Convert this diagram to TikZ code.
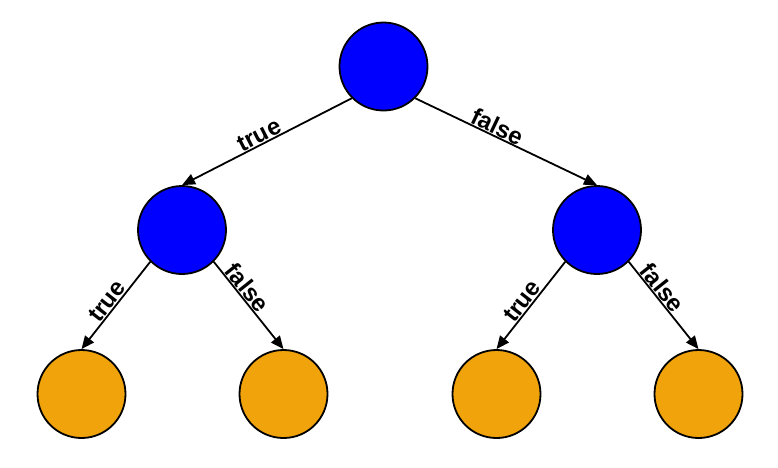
\documentclass[tikz,border=0pt]{standalone}
\usepackage{fontspec}
\setmainfont{Liberation Sans}
\usetikzlibrary{arrows.meta}
\definecolor{nodeblue}{RGB}{0,0,255}
\definecolor{leaforange}{RGB}{240,163,10}
\tikzset{
  inner/.style={circle,draw=black,line width=1.8pt,fill=nodeblue,minimum size=88pt,inner sep=0pt},
  leaf/.style={circle,draw=black,line width=1.8pt,fill=leaforange,minimum size=88pt,inner sep=0pt},
  edge/.style={-{Triangle[length=13pt,width=11pt]},line width=1.8pt,black},
  lbl/.style={sloped,above,font=\fontsize{24}{26}\selectfont\bfseries,inner sep=0.5pt}
}
\begin{document}
\begin{tikzpicture}[x=1pt,y=-1pt]
\useasboundingbox (0,0) rectangle (778,467);
\node[inner] (root) at (383.5,66.5) {};
\node[inner] (l) at (182,230) {};
\node[inner] (r) at (597,230) {};
\node[leaf] (ll) at (81.5,394) {};
\node[leaf] (lr) at (283.5,394) {};
\node[leaf] (rl) at (496.5,394) {};
\node[leaf] (rr) at (698.5,394) {};
\draw[edge] (root.south west) -- node[lbl,pos=0.52] {true} (l.north);
\draw[edge] (root.south east) -- node[lbl,pos=0.43] {false} (r.north);
\draw[edge] (l.south west) -- node[lbl,pos=0.52] {true} (ll.north);
\draw[edge] (l.south east) -- node[lbl,pos=0.37] {false} (lr.north);
\draw[edge] (r.south west) -- node[lbl,pos=0.52] {true} (rl.north);
\draw[edge] (r.south east) -- node[lbl,pos=0.37] {false} (rr.north);
\end{tikzpicture}
\end{document}
